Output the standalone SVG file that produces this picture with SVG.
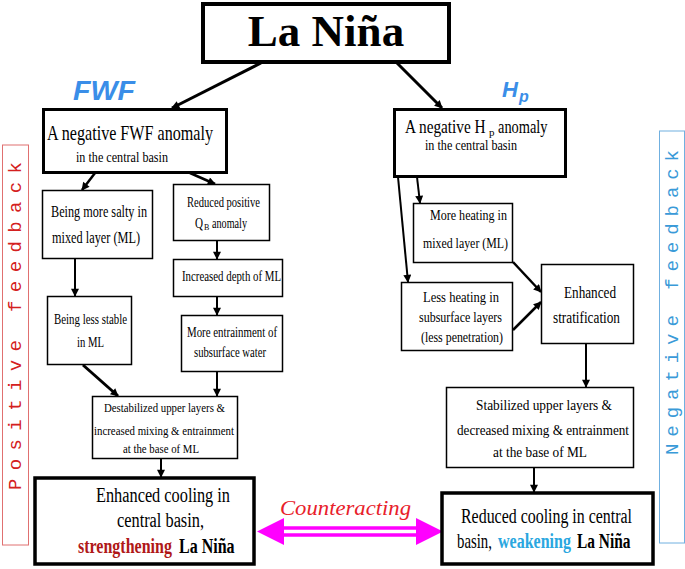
<svg xmlns="http://www.w3.org/2000/svg" width="685" height="569" viewBox="0 0 685 569">
<defs>
<style>
.t{font-family:"Liberation Serif","Times New Roman",serif;fill:#000}
.b{fill:#fff;stroke:#000}
.c{stroke:#000;fill:none;marker-end:url(#ah)}
.lbl{font-family:"Liberation Sans",Arial,sans-serif;font-weight:bold;font-style:italic;fill:#3a8ee8}
.side{font-family:"Liberation Mono","Courier New",monospace;font-size:19px}
</style>
<marker id="ah" viewBox="0 0 10 10" refX="9" refY="5" markerWidth="9" markerHeight="8" markerUnits="userSpaceOnUse" orient="auto">
<path d="M0,0 L10,5 L0,10 z" fill="#000"/>
</marker>
</defs>
<rect width="685" height="569" fill="#fff"/>

<g id="side-positive">
<rect x="2.5" y="145" width="26" height="400" fill="none" stroke="#e07070" stroke-width="1"/>
<text class="side" transform="translate(21,490) rotate(-90)" style="fill:#d42020" textLength="328" lengthAdjust="spacing">Positive feedback</text>
</g>
<g id="side-negative">
<rect x="659.5" y="131" width="25" height="412" fill="none" stroke="#70b0e0" stroke-width="1"/>
<text class="side" transform="translate(678,455) rotate(-90)" style="fill:#3a9ad8" textLength="305" lengthAdjust="spacing">Negative feedback</text>
</g>

<g id="labels">
<text class="lbl" x="73" y="100" font-size="27" textLength="62" lengthAdjust="spacingAndGlyphs">FWF</text>
<text class="lbl" x="502" y="97" font-size="22">H</text>
<text class="lbl" x="519" y="102" font-size="16">p</text>
</g>

<g id="connectors">
<line class="c" x1="261" y1="63" x2="172" y2="108" stroke-width="3"/>
<line class="c" x1="397" y1="63" x2="442" y2="108" stroke-width="3"/>
<line class="c" x1="95" y1="173" x2="82" y2="190" stroke-width="2.5"/>
<line class="c" x1="190" y1="173" x2="215" y2="184" stroke-width="2.5"/>
<line class="c" x1="75" y1="259" x2="75" y2="296" stroke-width="2"/>
<line class="c" x1="217" y1="241" x2="217" y2="259" stroke-width="2"/>
<line class="c" x1="217" y1="297" x2="217" y2="315" stroke-width="2"/>
<line class="c" x1="83" y1="365" x2="118" y2="396" stroke-width="3"/>
<line class="c" x1="217" y1="372" x2="217" y2="396" stroke-width="2"/>
<line class="c" x1="161" y1="459" x2="161" y2="477" stroke-width="2"/>
<line class="c" x1="398" y1="177" x2="408" y2="282" stroke-width="2"/>
<line class="c" x1="417" y1="177" x2="420" y2="203" stroke-width="2"/>
<line class="c" x1="513" y1="262" x2="541" y2="292" stroke-width="2.5"/>
<line class="c" x1="513" y1="330" x2="541" y2="302" stroke-width="2.5"/>
<line class="c" x1="586" y1="344" x2="586" y2="387" stroke-width="2"/>
<line class="c" x1="534" y1="468" x2="534" y2="492" stroke-width="2"/>
<g id="counteracting">
<line x1="280" y1="528" x2="420" y2="528" stroke="#ff00ff" stroke-width="3.5"/>
<line x1="280" y1="535" x2="420" y2="535" stroke="#ff00ff" stroke-width="3.5"/>
<polygon points="257,531.5 284,518 284,545" fill="#ff00ff"/>
<polygon points="443,531.5 416,518 416,545" fill="#ff00ff"/>
<text x="280" y="515" font-family="'Liberation Serif',serif" font-style="italic" font-size="22" fill="#e8202a" textLength="131" lengthAdjust="spacingAndGlyphs">Counteracting</text>
</g>
</g>

<g id="lanina">
<rect class="b" x="203" y="4" width="246" height="58" stroke-width="4"/>
<text class="t" x="326" y="46" font-size="45" font-weight="bold" text-anchor="middle">La Niña</text>
</g>

<g id="fwf-anomaly">
<rect class="b" x="43.5" y="109.5" width="183" height="63" stroke-width="3"/>
<text class="t" x="47" y="140" font-size="21" textLength="166" lengthAdjust="spacingAndGlyphs">A negative FWF anomaly</text>
<text class="t" x="76" y="162" font-size="15" textLength="92" lengthAdjust="spacingAndGlyphs">in the central basin</text>
</g>

<g id="hp-anomaly">
<rect class="b" x="394.5" y="109.5" width="171" height="67" stroke-width="3"/>
<text class="t" transform="translate(405,133) scale(0.85,1)" font-size="18">A negative H</text>
<text class="t" x="489" y="136" font-size="11">p</text>
<text class="t" transform="translate(498,133) scale(0.8,1)" font-size="18">anomaly</text>
<text class="t" x="425" y="150" font-size="15" textLength="92" lengthAdjust="spacingAndGlyphs">in the central basin</text>
</g>

<g id="more-salty">
<rect class="b" x="42.5" y="190.5" width="110" height="68" stroke-width="1.5"/>
<text class="t" x="51" y="217" font-size="17" textLength="96" lengthAdjust="spacingAndGlyphs">Being more salty in</text>
<text class="t" x="52" y="243" font-size="17" textLength="88" lengthAdjust="spacingAndGlyphs">mixed layer (ML)</text>
</g>

<g id="reduced-qb">
<rect class="b" x="173.5" y="184.5" width="96" height="56" stroke-width="1.5"/>
<text class="t" x="187" y="207" font-size="15" textLength="73" lengthAdjust="spacingAndGlyphs">Reduced positive</text>
<text class="t" x="195" y="228" font-size="14" textLength="8" lengthAdjust="spacingAndGlyphs">Q</text>
<text class="t" x="204" y="230" font-size="8">B</text>
<text class="t" x="212" y="228" font-size="15" textLength="35" lengthAdjust="spacingAndGlyphs">anomaly</text>
</g>

<g id="increased-depth">
<rect class="b" x="173.5" y="259.5" width="109" height="37" stroke-width="1.5"/>
<text class="t" x="182" y="281" font-size="15" textLength="99" lengthAdjust="spacingAndGlyphs">Increased depth of ML</text>
</g>

<g id="more-entrainment">
<rect class="b" x="181.5" y="315.5" width="101" height="56" stroke-width="1.5"/>
<text class="t" x="187" y="337" font-size="15" textLength="90" lengthAdjust="spacingAndGlyphs">More entrainment of</text>
<text class="t" x="194" y="357" font-size="15" textLength="72" lengthAdjust="spacingAndGlyphs">subsurface water</text>
</g>

<g id="less-stable">
<rect class="b" x="47.5" y="296.5" width="84" height="68" stroke-width="1.5"/>
<text class="t" x="54" y="324" font-size="15" textLength="73" lengthAdjust="spacingAndGlyphs">Being less stable</text>
<text class="t" x="77" y="347" font-size="15" textLength="27" lengthAdjust="spacingAndGlyphs">in ML</text>
</g>

<g id="destabilized">
<rect class="b" x="92.5" y="396.5" width="145" height="62" stroke-width="1.5"/>
<text class="t" x="104" y="412" font-size="13" textLength="121" lengthAdjust="spacingAndGlyphs">Destabilized upper layers &amp;</text>
<text class="t" x="94" y="435" font-size="13" textLength="140" lengthAdjust="spacingAndGlyphs">increased mixing &amp; entrainment</text>
<text class="t" x="123" y="453" font-size="13" textLength="76" lengthAdjust="spacingAndGlyphs">at the base of ML</text>
</g>

<g id="enhanced-cooling">
<rect class="b" x="35" y="478" width="219" height="86" stroke-width="3.5"/>
<text class="t" x="96" y="502" font-size="20" textLength="134" lengthAdjust="spacingAndGlyphs">Enhanced cooling in</text>
<text class="t" x="117" y="527" font-size="20" textLength="87" lengthAdjust="spacingAndGlyphs">central basin,</text>
<text class="t" transform="translate(78,553) scale(0.8,1)" font-size="20" font-weight="bold" style="fill:#b01818">strengthening</text>
<text class="t" transform="translate(179,553) scale(0.8,1)" font-size="20" font-weight="bold">La Niña</text>
</g>

<g id="more-heating">
<rect class="b" x="413.5" y="203.5" width="99" height="59" stroke-width="1.5"/>
<text class="t" x="430" y="220" font-size="15" textLength="77" lengthAdjust="spacingAndGlyphs">More heating in</text>
<text class="t" x="423" y="248" font-size="15" textLength="85" lengthAdjust="spacingAndGlyphs">mixed layer (ML)</text>
</g>

<g id="less-heating">
<rect class="b" x="401.5" y="282.5" width="111" height="68" stroke-width="1.5"/>
<text class="t" x="423" y="302" font-size="15" textLength="76" lengthAdjust="spacingAndGlyphs">Less heating  in</text>
<text class="t" x="419" y="322" font-size="15" textLength="83" lengthAdjust="spacingAndGlyphs">subsurface layers</text>
<text class="t" x="421" y="342" font-size="15" textLength="82" lengthAdjust="spacingAndGlyphs">(less penetration)</text>
</g>

<g id="stratification">
<rect class="b" x="541.5" y="264.5" width="92" height="79" stroke-width="1.5"/>
<text class="t" x="564" y="298" font-size="16" textLength="52" lengthAdjust="spacingAndGlyphs">Enhanced</text>
<text class="t" x="553" y="323" font-size="16" textLength="67" lengthAdjust="spacingAndGlyphs">stratification</text>
</g>

<g id="stabilized">
<rect class="b" x="446.5" y="387.5" width="187" height="80" stroke-width="1.5"/>
<text class="t" x="476" y="410" font-size="15" textLength="136" lengthAdjust="spacingAndGlyphs">Stabilized upper layers &amp;</text>
<text class="t" x="457" y="435" font-size="15" textLength="172" lengthAdjust="spacingAndGlyphs">decreased mixing &amp; entrainment</text>
<text class="t" x="493" y="457" font-size="15" textLength="94" lengthAdjust="spacingAndGlyphs">at the base of ML</text>
</g>

<g id="reduced-cooling">
<rect class="b" x="442" y="493" width="211" height="71" stroke-width="3.5"/>
<text class="t" x="461" y="523" font-size="20" textLength="171" lengthAdjust="spacingAndGlyphs">Reduced cooling in central</text>
<text class="t" transform="translate(457,548) scale(0.74,1)" font-size="20">basin,</text>
<text class="t" transform="translate(498,548) scale(0.8,1)" font-size="20" font-weight="bold" style="fill:#2aa7e0">weakening</text>
<text class="t" transform="translate(577,548) scale(0.77,1)" font-size="20" font-weight="bold">La Niña</text>
</g>
</svg>
